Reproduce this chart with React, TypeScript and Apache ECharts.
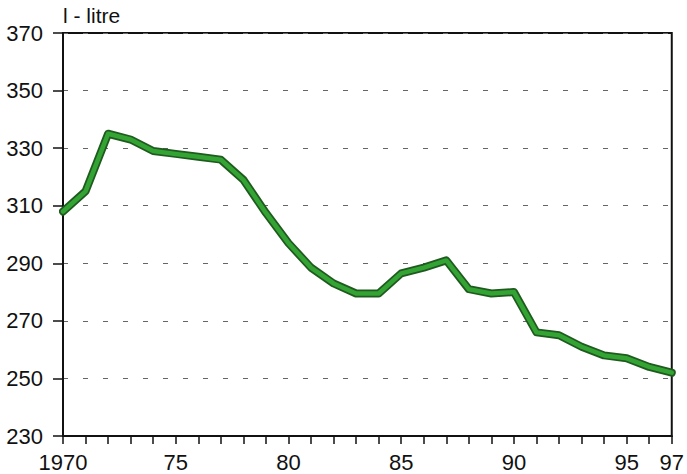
import React, { useEffect, useRef } from "react";
import * as echarts from "echarts";

const years = [1970, 1971, 1972, 1973, 1974, 1975, 1976, 1977, 1978, 1979, 1980, 1981, 1982, 1983, 1984, 1985, 1986, 1987, 1988, 1989, 1990, 1991, 1992, 1993, 1994, 1995, 1996, 1997];
const litres = [308, 315, 335, 333, 329, 328, 327, 326, 319, 307.5, 297, 288.5, 283, 279.5, 279.5, 286.5, 288.5, 291, 281, 279.5, 280, 266, 265, 261, 258, 257, 254, 252];
const yTicks = [230, 250, 270, 290, 310, 330, 350, 370];
const xLabelYears = [1970, 1975, 1980, 1985, 1990, 1995, 1997];
const unitLabel = "l - litre";

export default function App() {
  const ref = useRef<HTMLDivElement>(null);
  useEffect(() => {
    if (!ref.current) return;
    const chart = echarts.init(ref.current, null, { renderer: "svg" });
    const pts = years.map((y, i) => [y, litres[i]]);
    const font = "'Liberation Sans', Arial, sans-serif";
    chart.setOption({
      animation: false,
      backgroundColor: "#ffffff",
      graphic: [
        {
          type: "text",
          left: 63,
          top: 5,
          style: { text: unitLabel, font: `21px ${font}`, fill: "#111" },
        },
      ],
      grid: {
        left: 63,
        right: 10,
        top: 33,
        bottom: 38,
        show: true,
        borderColor: "#111",
        borderWidth: 2,
        containLabel: false,
      },
      xAxis: {
        type: "value",
        min: 1970,
        max: 1997,
        interval: 1,
        axisLine: { show: true, lineStyle: { color: "#111", width: 2 } },
        axisTick: { show: true, length: 8, lineStyle: { color: "#111", width: 1.5 } },
        splitLine: { show: false },
        axisLabel: {
          show: true,
          margin: 15,
          color: "#111",
          fontSize: 22,
          fontFamily: font,
          showMinLabel: true,
          showMaxLabel: true,
          formatter: (v: number) => {
            if (!xLabelYears.includes(v)) return "";
            if (v === 1970) return String(v);
            return String(v % 100);
          },
        },
      },
      yAxis: {
        type: "value",
        min: yTicks[0],
        max: yTicks[yTicks.length - 1],
        interval: 20,
        axisLine: { show: true, lineStyle: { color: "#111", width: 2 } },
        axisTick: { show: true, length: 10, lineStyle: { color: "#111", width: 1.5 } },
        splitLine: {
          show: true,
          lineStyle: { color: "#666", width: 1, type: [5, 15] },
        },
        axisLabel: {
          margin: 20,
          color: "#111",
          fontSize: 22,
          fontFamily: font,
        },
      },
      series: [
        {
          type: "line",
          data: pts,
          showSymbol: false,
          symbol: "none",
          lineStyle: { color: "#1f5a1f", width: 8, join: "round", cap: "round" },
          z: 2,
        },
        {
          type: "line",
          data: pts,
          showSymbol: false,
          symbol: "none",
          lineStyle: { color: "#33a333", width: 4.5, join: "round", cap: "round" },
          z: 3,
        },
      ],
    });
    return () => chart.dispose();
  }, []);
  return (
    <div
      ref={ref}
      style={{ position: "fixed", left: 0, top: 0, width: 687, height: 474 }}
    />
  );
}
